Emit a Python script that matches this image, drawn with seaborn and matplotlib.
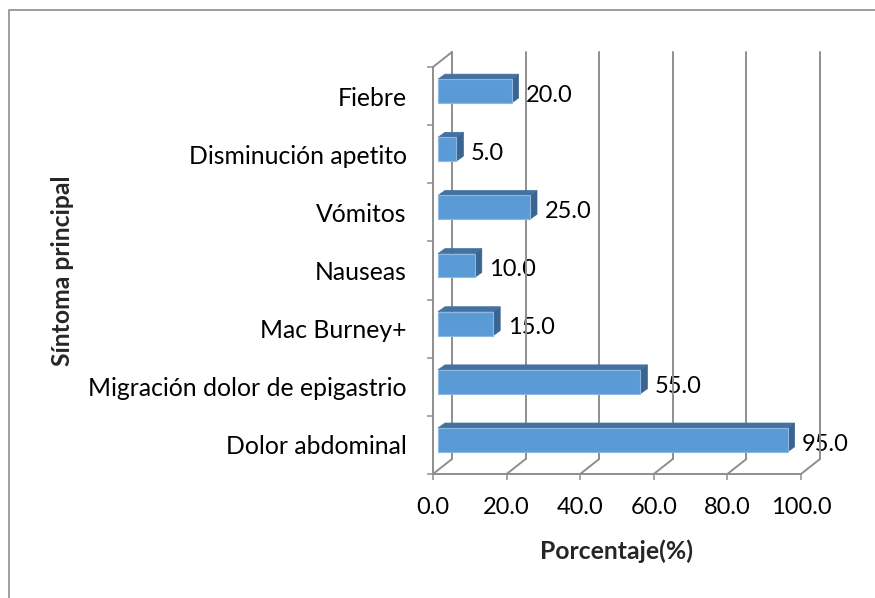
import matplotlib
matplotlib.use("Agg")
import matplotlib.pyplot as plt
import seaborn as sns
import pandas as pd
from matplotlib.patches import Polygon, Rectangle
from matplotlib.transforms import IdentityTransform

# datos del gráfico
sintomas = ["Fiebre", "Disminución apetito", "Vómitos", "Nauseas",
            "Mac Burney+", "Migración dolor de epigastrio", "Dolor abdominal"]
porcentajes = [20.0, 5.0, 25.0, 10.0, 15.0, 55.0, 95.0]
ticks_x = [0, 20, 40, 60, 80, 100]

DPI = 100
GRIS = "#8e8e8e"
AZUL = "#5B9BD5"
AZUL_TOP = "#4472A0"
AZUL_LADO = "#3A6590"

# desplazamientos "3D" en pixeles (x derecha, y arriba)
FONDO = (19, 15)
BARRA = (5, 5)
PROF = (7, 5)

sns.set_theme(style="white")
plt.rcParams["font.family"] = ["Lato", "DejaVu Sans"]

fig = plt.figure(figsize=(8.75, 5.98), dpi=DPI)
ax = fig.add_axes([433 / 875, 124 / 598, 368 / 875, 407 / 598])

df = pd.DataFrame({"Sintoma": sintomas, "Porcentaje": porcentajes})
sns.barplot(data=df, x="Porcentaje", y="Sintoma", orient="h", width=0.41,
            color=AZUL, saturation=1, ax=ax, zorder=3)

ax.set_xlim(0, 100)
ax.set_ylim(len(sintomas) - 0.5, -0.5)
ax.set_xticks(ticks_x)
ax.set_xticklabels([f"{t:.1f}" for t in ticks_x])
ax.set_yticks(range(len(sintomas)))
ax.set_yticks([i - 0.5 for i in range(len(sintomas) + 1)], minor=True)
ax.tick_params(axis="y", which="major", length=0, pad=19, labelsize=17.8, colors="black")
ax.tick_params(axis="y", which="minor", left=True, length=4.3, width=1.1, color=GRIS)
ax.tick_params(axis="x", which="major", bottom=True, length=4.3, width=1.1, color=GRIS,
               pad=12, labelsize=17, labelcolor="black")
ax.set_xlabel("")
ax.set_ylabel("")
for lado in ["top", "right"]:
    ax.spines[lado].set_visible(False)
for lado in ["left", "bottom"]:
    ax.spines[lado].set_color(GRIS)
    ax.spines[lado].set_linewidth(1.4)
ax.set_facecolor("none")

fig.canvas.draw()
td = ax.transData


def linea(p0, p1, **kw):
    fig.add_artist(plt.Line2D([p0[0], p1[0]], [p0[1], p1[1]], transform=IdentityTransform(),
                              color=GRIS, lw=1.4, zorder=1, **kw))


y_top, y_bot = -0.5, len(sintomas) - 0.5
# pared del fondo y piso
for t in ticks_x:
    a = td.transform((t, y_bot))
    b = td.transform((t, y_top))
    linea((a[0] + FONDO[0], a[1] + FONDO[1]), (b[0] + FONDO[0], b[1] + FONDO[1]))
    linea(a, (a[0] + FONDO[0], a[1] + FONDO[1]))
a = td.transform((0, y_top))
linea(a, (a[0] + FONDO[0], a[1] + FONDO[1]))

# barras con caras 3D
for p in ax.patches:
    x0, y0 = p.get_x(), p.get_y()
    x1, y1 = x0 + p.get_width(), y0 + p.get_height()
    sup_izq = td.transform((x0, y0)) + BARRA
    sup_der = td.transform((x1, y0)) + BARRA
    inf_der = td.transform((x1, y1)) + BARRA
    inf_izq = td.transform((x0, y1)) + BARRA
    p.set_visible(False)
    frente = Polygon([sup_izq, sup_der, inf_der, inf_izq], closed=True, transform=IdentityTransform(),
                     facecolor=AZUL, edgecolor="#8DB8E3", lw=0.8, zorder=4)
    arriba = Polygon([sup_izq, sup_der, sup_der + PROF, sup_izq + PROF], closed=True,
                     transform=IdentityTransform(), facecolor=AZUL_TOP, edgecolor=AZUL_TOP,
                     lw=0.5, zorder=4)
    lado = Polygon([sup_der, inf_der, inf_der + PROF, sup_der + PROF], closed=True,
                   transform=IdentityTransform(), facecolor=AZUL_LADO, edgecolor=AZUL_LADO,
                   lw=0.5, zorder=4)
    for poly in (lado, arriba, frente):
        fig.add_artist(poly)

# etiquetas de valores
for i, v in enumerate(porcentajes):
    ax.annotate(f"{v:.1f}", xy=(v, i), xytext=(14, 0.5), textcoords="offset points",
                ha="left", va="center", fontsize=17, color="black", annotation_clip=False)

fig.text(63 / 875, 1 - 271 / 598, "Síntoma principal", rotation=90, ha="center", va="center",
         fontsize=17.8, fontweight="bold")
fig.text(616 / 875, 1 - 551 / 598, "Porcentaje(%)", ha="center", va="center",
         fontsize=17.8, fontweight="bold")

# marco del área del gráfico
fig.add_artist(Rectangle((9 / 875, -0.1), 1.2, 1 - 10 / 598 + 0.1, transform=fig.transFigure,
                         fill=False, edgecolor=GRIS, lw=1.2, zorder=0))

fig.savefig("out.png", dpi=DPI)
